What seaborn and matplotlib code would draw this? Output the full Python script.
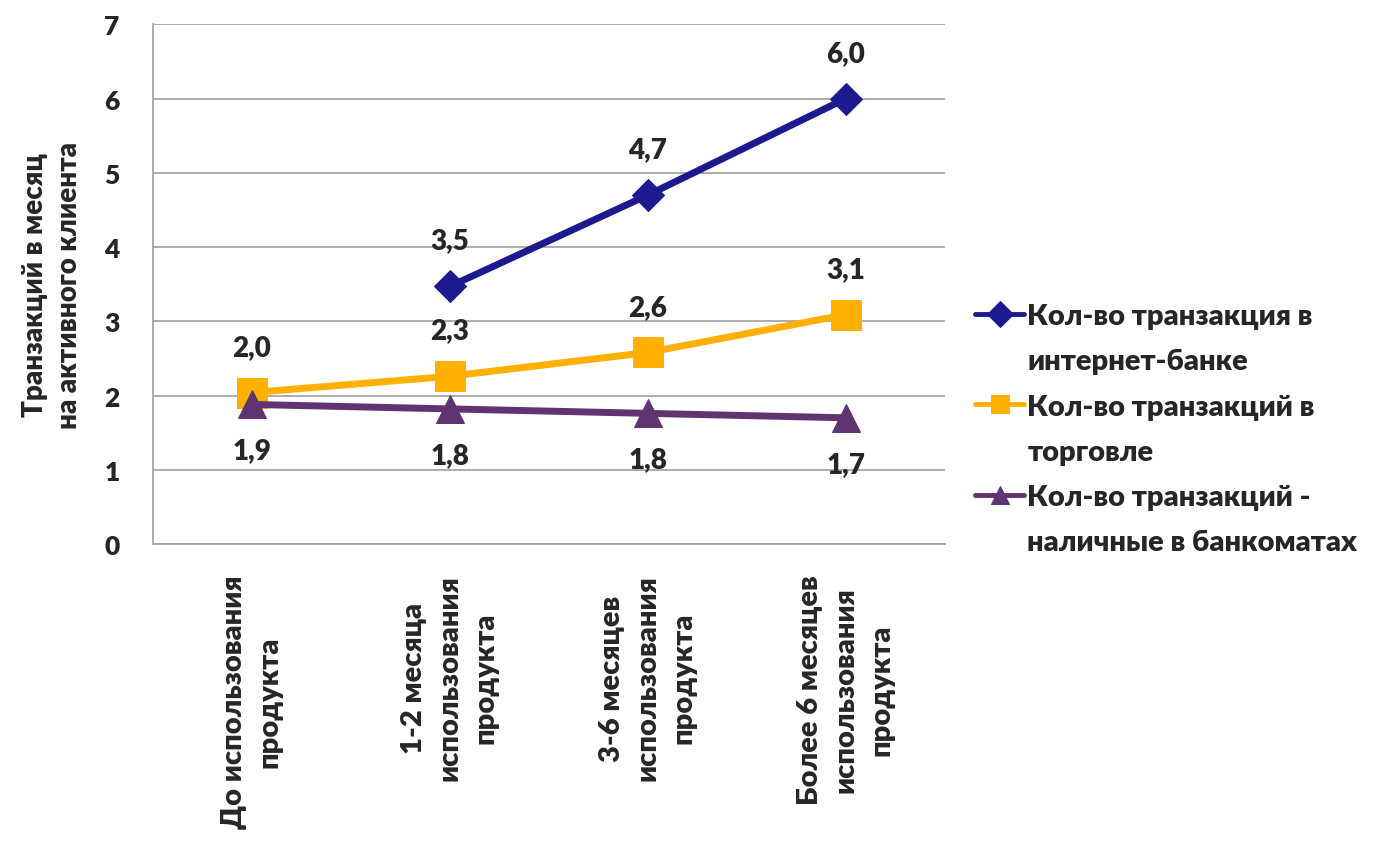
import numpy as np
import pandas as pd
import matplotlib
matplotlib.use("Agg")
import matplotlib.pyplot as plt
from matplotlib.lines import Line2D
import seaborn as sns

# Данные
categories = [
    "До использования\nпродукта",
    "1-2 месяца\nиспользования\nпродукта",
    "3-6 месяцев\nиспользования\nпродукта",
    "Более 6 месяцев\nиспользования\nпродукта",
]
internet_bank = [np.nan, 3.47, 4.70, 6.00]
internet_labels = [None, "3,5", "4,7", "6,0"]
trade = [2.04, 2.26, 2.58, 3.09]
trade_labels = ["2,0", "2,3", "2,6", "3,1"]
atm_cash = [1.88, 1.82, 1.76, 1.70]
atm_labels = ["1,9", "1,8", "1,8", "1,7"]

series_names = [
    ("Кол-во транзакция в", "интернет-банке"),
    ("Кол-во транзакций в", "торговле"),
    ("Кол-во транзакций -", "наличные в банкоматах"),
]
y_label = "Транзакций в месяц\nна активного клиента"

W = "heavy"
sns.set_style("white")
plt.rcParams["font.family"] = ["Lato", "DejaVu Sans"]
plt.rcParams["font.weight"] = W

fig = plt.figure(figsize=(13.83, 8.45), dpi=100)
ax = fig.add_axes([0.1106, 0.355, 0.5725, 0.615])

x = np.arange(len(categories))
styles = [
    (internet_bank, internet_labels, "#1C1A8E", "D", 16, 1),
    (trade, trade_labels, "#FFB000", "s", 21, 1),
    (atm_cash, atm_labels, "#5F3470", "^", 20, -1),
]

for (vals, labels, color, marker, msize, side), name in zip(styles, series_names):
    sns.lineplot(x=x, y=vals, ax=ax, color=color, linewidth=5, marker=marker,
                 markersize=msize, markeredgecolor=color, label=name[0])
    for xi, v, lab in zip(x, vals, labels):
        if lab is None:
            continue
        ax.annotate(lab, (xi, v), xytext=(0, 33 * side), textcoords="offset points",
                    ha="center", va="center", fontsize=20, fontweight=W)

ax.set_xlim(-0.5, len(categories) - 0.5)
ax.set_ylim(0, 7)
ax.set_yticks(range(0, 8))
ax.set_yticklabels([str(t) for t in range(0, 8)], fontsize=19, fontweight=W)
ax.set_xticks(x)
ax.set_xticklabels(categories, rotation=90, fontsize=21, fontweight=W,
                   ha="center", va="top", multialignment="center", linespacing=1.45)
ax.tick_params(axis="y", length=0, pad=24)
ax.tick_params(axis="x", length=0, pad=22)
ax.grid(axis="y", color="#A6A6A6", linewidth=1.3)
ax.set_axisbelow(True)
for s in ["top", "right"]:
    ax.spines[s].set_visible(False)
for s in ["left", "bottom"]:
    ax.spines[s].set_color("#A6A6A6")
    ax.spines[s].set_linewidth(1.3)
ax.set_xlabel("")
ax.set_ylabel(y_label, fontsize=20, fontweight=W, labelpad=16, linespacing=1.4)

# легенда: маркер у первой строки подписи, вторая строка — отдельной записью
handles, _ = ax.get_legend_handles_labels()
leg_handles, leg_labels = [], []
for h, (first, second) in zip(handles, series_names):
    leg_handles += [h, Line2D([], [], color="none")]
    leg_labels += [first, second]

leg = ax.legend(leg_handles, leg_labels, loc="center left",
                bbox_to_anchor=(1.038, 0.221), frameon=False,
                handlelength=1.7, handletextpad=0.1, labelspacing=0.66,
                borderaxespad=0, borderpad=0,
                prop={"weight": W, "size": 21})
for h in leg.get_lines():
    h.set_linewidth(3.5)
    h.set_markersize(13)

fig.savefig("out.png", dpi=100)
